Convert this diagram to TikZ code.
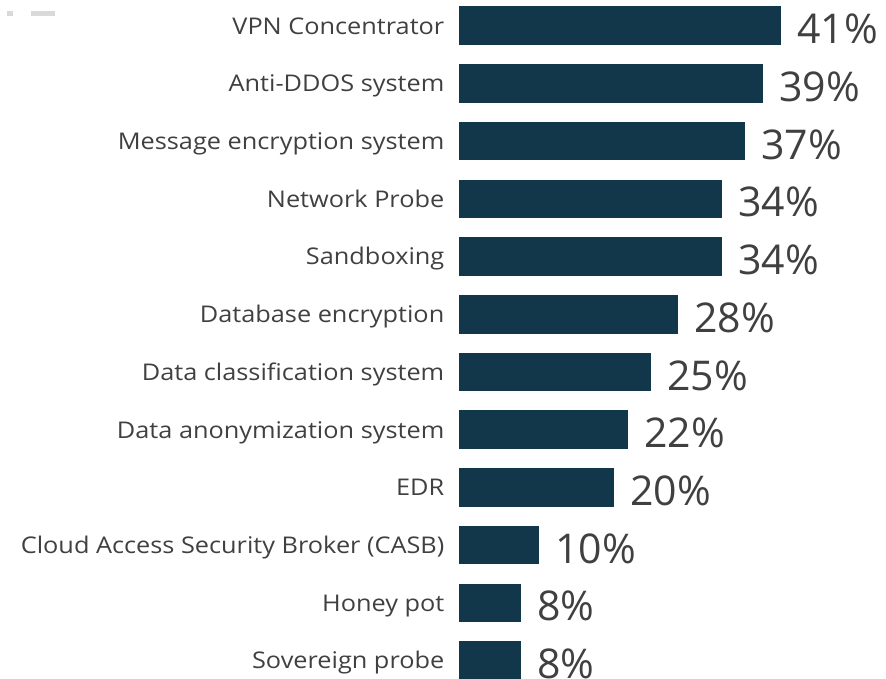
\documentclass[tikz,border=0pt]{standalone}
\usepackage{fontspec}
\setmainfont{Open Sans}
\newfontfamily\catfont[FakeStretch=1.1]{Open Sans}
\definecolor{barblue}{HTML}{12374A}
\definecolor{txtgray}{HTML}{404040}
\definecolor{markgray}{HTML}{D9D9D9}
\def\barx{458.5}
\tikzset{
  bar/.style={fill=barblue,draw=none,inner sep=0pt,outer sep=0pt,anchor=west,minimum height=38.6pt},
  cat/.style={anchor=base east,inner sep=0pt,text=txtgray,font=\catfont\fontsize{23}{27}\selectfont},
  pct/.style={anchor=base west,inner sep=0pt,text=txtgray,font=\fontsize{41}{47}\selectfont}
}

\begin{document}
\begin{tikzpicture}[x=1pt,y=-1pt]
    \useasboundingbox (0,0) rectangle (886,679);

    % small legend marks, top left
    \fill[markgray] (7,11) rectangle (13,16);
    \fill[markgray] (31,11) rectangle (55,16);

    % value / right end of bar / category
    \foreach \val/\barend/\txt [count=\i] in {41/781/VPN Concentrator,
        39/763/Anti-DDOS system,
        37/745/Message encryption system,
        34/722/Network Probe,
        34/722/Sandboxing,
        28/678/Database encryption,
        25/651/Data classification system,
        22/628/Data anonymization system,
        20/614/EDR,
        10/539/{Cloud Access Security Broker (CASB)},
        8/521/Honey pot,
        8/521/Sovereign probe}
    {
        \pgfmathsetmacro{\rowy}{25.8+57.7*(\i-1)}
        \pgfmathsetmacro{\barw}{\barend-\barx}
        \node[bar,minimum width=\barw pt] (bar\i) at (\barx,\rowy) {};
        \node[cat] (cat\i) at ([xshift=-14pt,yshift=-8.3pt]bar\i.west) {\txt};
        \node[pct] (pct\i) at ([xshift=16pt,yshift=-18pt]bar\i.east) {\val\%};
    }
\end{tikzpicture}
\end{document}
